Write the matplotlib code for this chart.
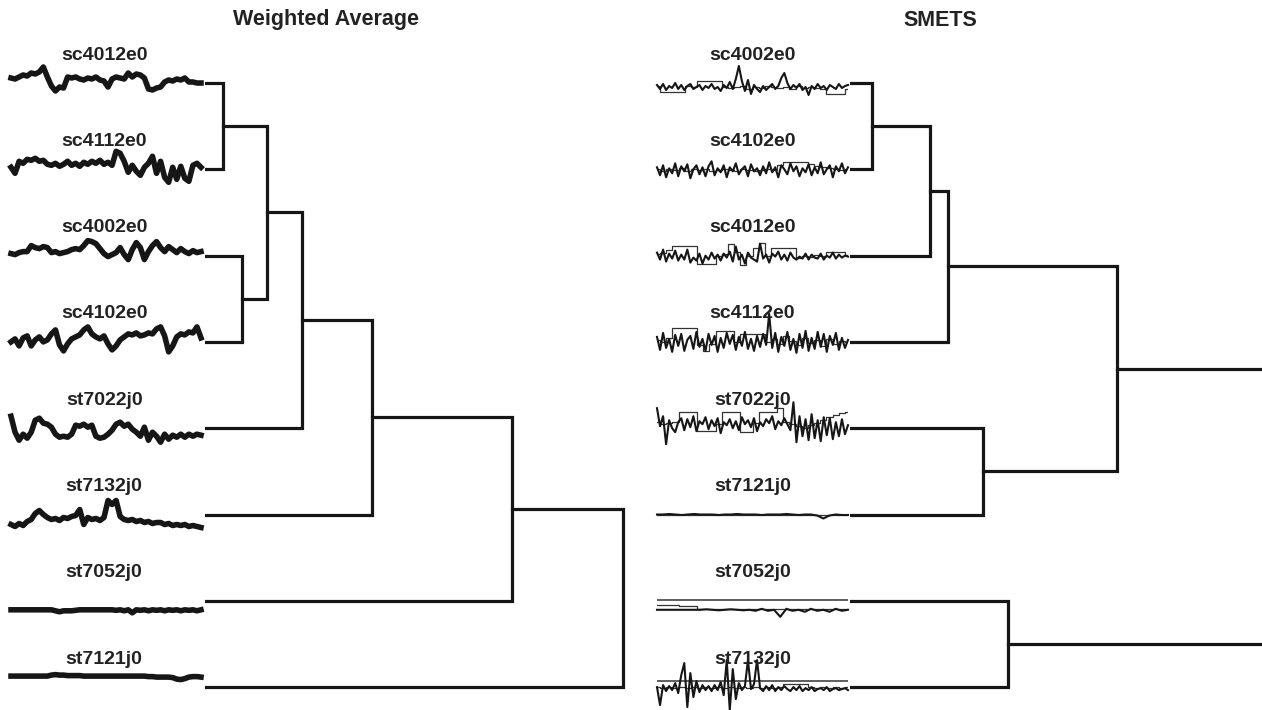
import numpy as np
import matplotlib
matplotlib.use("Agg")
from matplotlib import pyplot as plt

plt.rcParams["font.family"] = ["Liberation Sans", "DejaVu Sans"]

# ---- data --------------------------------------------------------------
# leaf order (top to bottom) for each dendrogram
wa_labels = ["sc4012e0", "sc4112e0", "sc4002e0", "sc4102e0",
             "st7022j0", "st7132j0", "st7052j0", "st7121j0"]
smets_labels = ["sc4002e0", "sc4102e0", "sc4012e0", "sc4112e0",
                "st7022j0", "st7121j0", "st7052j0", "st7132j0"]

# merges: (child a, child b); leaves are 0..7, new clusters 8, 9, ...
wa_merges = [(0, 1), (2, 3), (8, 9), (10, 4), (11, 5), (12, 6), (13, 7)]
wa_heights = [0.18, 0.37, 0.62, 0.97, 1.67, 3.07, 4.18]

smets_merges = [(0, 1), (8, 2), (9, 3), (4, 5), (6, 7), (10, 11), (13, 12)]
smets_heights = [0.22, 0.80, 0.98, 1.33, 1.58, 2.67, 5.20]

# thumbnails, weighted average series (one per leaf, same order as wa_labels)
wa_series = [
    [5, 4, 6, 8, 7, 10, 9, 11, 16, 6, -3, -8, -4, -5, 6, 5, 6, 4, 3, 5, 4, 6, 3, 2,
     -4, 4, 6, 5, 4, 10, 6, 9, 8, 5, -6, -7, -5, -4, 1, 3, 2, 4, 3, 5, 1, 1, 0, 0],
    [2, -4, 8, 6, 10, 9, 11, 8, 9, 5, 4, 6, 3, 5, 8, 4, 6, 3, 7, 5, 8, 6, 9, 5,
     7, 4, 18, 16, 8, -3, 4, -2, -6, 2, 6, 13, -4, 8, -8, -13, 2, -10, 3, -9, -12, 4, 6, 2],
    [2, 1, 3, 4, 4, 10, 8, 7, 9, 8, 3, 4, 2, 3, 4, 6, 7, 6, 10, 15, 14, 12, 7, 2,
     -1, 1, 3, 8, 1, -4, 6, 13, 8, -4, 4, 10, 14, 8, 4, 9, 6, 3, 7, 4, 2, 5, 3, 4],
    [0, 3, -4, 4, 6, -4, 2, 5, 0, 2, 8, 12, -3, -9, -2, 3, 5, 7, 12, 15, 8, 5, 3, 6,
     -2, -8, -4, 2, 5, 8, 7, 9, 6, 7, 9, 8, 13, 15, 6, -10, -4, 5, 8, 7, 10, 9, 15, 4],
    [12, -4, -12, -6, -10, -4, 8, 10, 5, 4, 1, -6, -9, -8, -9, -6, 3, 2, 4, 1, 3, -8, -10, -9,
     -6, -2, 4, 6, 2, 4, -1, -4, -8, 1, -12, -4, -8, -14, -6, -11, -7, -9, -6, -9, -6, -8, -6, -7],
    [-10, -12, -9, -11, -7, -5, 1, 4, 0, -3, -5, -4, -6, -3, -4, -2, -1, 5, -10, -3, -5, -4, -6, -3,
     14, 10, 14, -2, -5, -6, -5, -7, -6, -8, -7, -9, -8, -8, -10, -9, -11, -10, -11, -10, -12, -11, -12, -13],
    [-9, -9, -9, -9, -9, -9, -9, -9, -9, -9, -9, -10, -11, -10, -10, -10, -9.5, -9, -9, -9, -9, -9, -9, -9,
     -9, -9, -9.5, -9, -10, -9, -12, -9, -9.5, -9, -10, -9, -9.5, -9, -10, -9, -9.5, -9, -10, -9, -9.5, -9, -10, -9],
    [11, 11, 11, 11, 11, 11, 11, 11, 11, 11, 12, 12.5, 12, 12, 11.5, 11.5, 11.5, 11.5, 11, 11, 11, 11, 11, 11,
     11, 11, 11, 11, 11, 11, 11, 11, 11, 11, 10.5, 10.5, 10, 10, 10, 10, 9.5, 8, 7.5, 8.5, 10, 10.5, 10.5, 10],
]

# thumbnails, SMETS: a dense main trace and a thinner second trace per leaf
smets_main = [
    [-2, -6, -1, -7, -3, -5, 0, -6, -2, -7, -3, -1, -6, -4, -2, -7, -3, -5, -1, -6, -4, -8, -2, -5, 1, -6, 4, 17,
     2, -8, 3, -11, -2, -6, -9, -3, -7, -4, -1, -6, -3, 5, 10, 0, -6, -2, -5, -1, -7, -4, -12, -3, -6, -1, -5, -3,
     -7, -2, -4, -6, -1, -5, -3, -2],
    [2, -6, 4, -8, 1, -4, 6, -7, 3, -2, 5, -9, 0, 4, -5, 2, -7, 3, 8, -6, 1, -3, 4, -8, 2, -2, 6, -5, 0, 3, -7, 5,
     -2, 1, -6, 3, -4, 7, -3, 2, -8, 4, 0, -5, 6, -2, 3, -7, 1, -3, 5, -6, 2, -4, 7, -5, 0, 4, -8, 3, -2, 6, -4, 2],
    [3, -4, 6, -6, 2, -3, 5, -5, 1, -4, 6, -7, -2, -5, 2, -8, 0, -4, 3, -3, 1, -5, 2, -2, 4, -6, 9, -4, 1, -8, 3, -2,
     -4, -6, 12, -3, 1, -7, 2, -1, 4, -4, 1, -5, 3, -2, -4, -1, -3, 2, -4, 1, -2, -3, 2, -4, 0, -2, 3, -3, 1, -2, 0, -1],
    [5, -8, 9, -6, 3, -10, 7, -4, 8, -9, 2, 6, -7, 10, -5, 3, -9, 8, -3, 6, -10, 4, -6, 9, -2, 7, -8, 5, -4, 10, -7, 3,
     -9, 6, -5, 8, -3, 28, -6, 9, -10, 5, -4, 10, -8, 3, -11, 8, -6, 11, -9, 4, -7, 10, -5, 8, -10, 6, -3, 9, -8, 4, -6, 2],
    [20, 2, 12, -16, 8, 0, -4, 6, 10, -2, 9, 1, 12, -3, 7, 4, 11, -1, 8, 2, 10, -5, 6, 3, 9, 0, 7, -2, 11, 4, 8, 1,
     10, -3, 6, 2, 9, 5, 12, -1, 7, 3, 10, 4, -2, 26, -14, 12, -8, 9, -12, 14, -10, 8, -13, 11, -7, 10, -11, 6, -8, 9, -6, 3],
    [0, 0, 0.5, 0, -0.5, 0, 0.5, 0, 0, 0, -0.5, 0, 0, 0.5, 0, 0, 0, -0.5, 0, 0, 0, 0.5, 0, -0.5, 0, 0, -1, -4, -1, 0, -0.5, -0.5],
    [-9, -9, -9, -9, -9, -9, -9, -9, -8.5, -9, -9.5, -9, -8.5, -9, -9.5, -9, -10, -8, -10, -9, -16, -8, -10, -9,
     -11, -8, -10, -9, -11, -8, -10, -9],
    [0, -18, 2, -4, 1, -3, 4, -6, 12, 24, -20, 14, -10, 6, -5, 2, -3, 1, -4, 2, -3, 5, -8, 27, -23, 18, -12, 4, -3, 1,
     27, -2, 3, 27, -1, -4, 1, -3, 2, -4, 0, -3, 1, -2, -4, 0, -3, 1, -4, -1, -3, 0, -4, -2, -1, -3, 0, -4, -2, -1, -3, -2, -1, -3],
]
smets_second = [
    [-3, -9, -9, -9, -9, -3, -4, 2, 2, 2, 2, -4, -5, -4, -3, -6, -4, -5, -3, -4, -5, -4, -6, -3, -5, -4, -5, -6, -11, -11, -11, -6],
    [0, -2, 0, -1, 1, -2, 0, -1, 0, -2, -1, 0, -1, -2, 0, -1, -2, -1, 0, -1, 4, 7, 7, 7, 7, 5, 3, 2, 1, 0, -1, 0],
    [2, 3, 6, 10, 10, 10, 10, -8, -8, -8, 0, 2, 12, 4, -9, 0, 8, 13, 0, 8, 8, 8, 8, -2, 0, -1, 1, 0, 4, 4, 4, 1],
    [2, 0, 4, 14, 14, 14, 14, -3, -9, -2, 11, 11, 11, 0, 8, 8, 8, 8, 0, 3, -2, 6, 1, -3, 4, -1, 2, -4, 3, -2, 1, 0],
    [6, 4, 5, 6, 16, 16, 16, -3, -3, -3, 4, 16, 16, 16, -4, -4, 5, 16, 16, 16, 20, 6, 4, 2, 0, 3, 5, 8, 11, 13, 15, 16],
    [0, 0],
    [-4, -4, -4.5, -4.5, -5, -5, -5, -8, -8, -8.5, -8, -8, -8.5, -8, -8, -8, -8, -8, -8, -8, -8, -8, -8, -8,
     -8, -8, -8, -8, -8, -8, -8, -8],
    [0, -1, 0, -1, 0, -1, 0, -1, 0, -1, 0, -1, 0, -1, 0, -1, 0, -1, 0, -1, 0, 3.5, 3.5, 3.5, 3.5, 0, -1, 0, -1, 0, -1, 0],
]
# flat reference lines visible in a few SMETS thumbnails (None = not present)
smets_flat = [None, None, None, None, None, None, 1, 6]

# ---- layout (pixels of a 1262 x 710 canvas) ----------------------------
W, H = 1262, 710
leaf_top, leaf_step = 83, 86.3
ink = "#161616"

fig = plt.figure(figsize=(W / 100, H / 100), dpi=100)


def draw_dendrogram(left_px, right_px, merges, heights, xmax):
    ax = fig.add_axes([left_px / W, 0, (right_px - left_px) / W, 1])
    pos = {i: float(i) for i in range(8)}
    hgt = {i: 0.0 for i in range(8)}
    for n, ((a, b), d) in enumerate(zip(merges, heights)):
        ax.plot([hgt[a], d, d, hgt[b]], [pos[a], pos[a], pos[b], pos[b]],
                color=ink, lw=2.3, solid_joinstyle="miter")
        pos[8 + n] = (pos[a] + pos[b]) / 2
        hgt[8 + n] = d
    ax.set_xlim(0, xmax)
    ax.set_ylim((H - leaf_top) / leaf_step, -leaf_top / leaf_step)
    ax.axis("off")
    return ax


def thumb_axes(x0, x1, i):
    yc = leaf_top + leaf_step * i
    ax = fig.add_axes([x0 / W, (H - yc - 25) / H, (x1 - x0) / W, 50 / H])
    ax.set_xlim(0, 1)
    ax.set_ylim(-25, 25)
    ax.axis("off")
    return ax


# left: weighted average
draw_dendrogram(205, 640, wa_merges, wa_heights, 4.35)
for i, (name, vals) in enumerate(zip(wa_labels, wa_series)):
    ax = thumb_axes(11, 201, i)
    ax.plot(np.linspace(0, 1, len(vals)), vals, color=ink, lw=4.0,
            solid_joinstyle="round", clip_on=False)
    ax.text(0.49, 1.06, name, transform=ax.transAxes, ha="center", va="center",
            fontsize=14, fontweight="bold", color="#222222")

# right: SMETS
draw_dendrogram(850, 1262, smets_merges, smets_heights, 4.12)
for i, name in enumerate(smets_labels):
    ax = thumb_axes(657, 848, i)
    main = smets_main[i]
    second = smets_second[i]
    if smets_flat[i] is not None:
        ax.plot([0, 1], [smets_flat[i], smets_flat[i]], color="#333333", lw=1.1)
    ax.plot(np.linspace(0, 1, len(second)), second, color="#333333", lw=0.9,
            drawstyle="steps-mid")
    ax.plot(np.linspace(0, 1, len(main)), main, color=ink, lw=1.5, clip_on=False)
    ax.text(0.5, 1.06, name, transform=ax.transAxes, ha="center", va="center",
            fontsize=14, fontweight="bold", color="#222222")

fig.text(326 / W, 1 - 20 / H, "Weighted Average", ha="center", va="center",
         fontsize=15.5, fontweight="bold", color="#222222")
fig.text(940 / W, 1 - 20 / H, "SMETS", ha="center", va="center",
         fontsize=15.5, fontweight="bold", color="#222222")

fig.savefig("out.png", dpi=100, facecolor="white")
